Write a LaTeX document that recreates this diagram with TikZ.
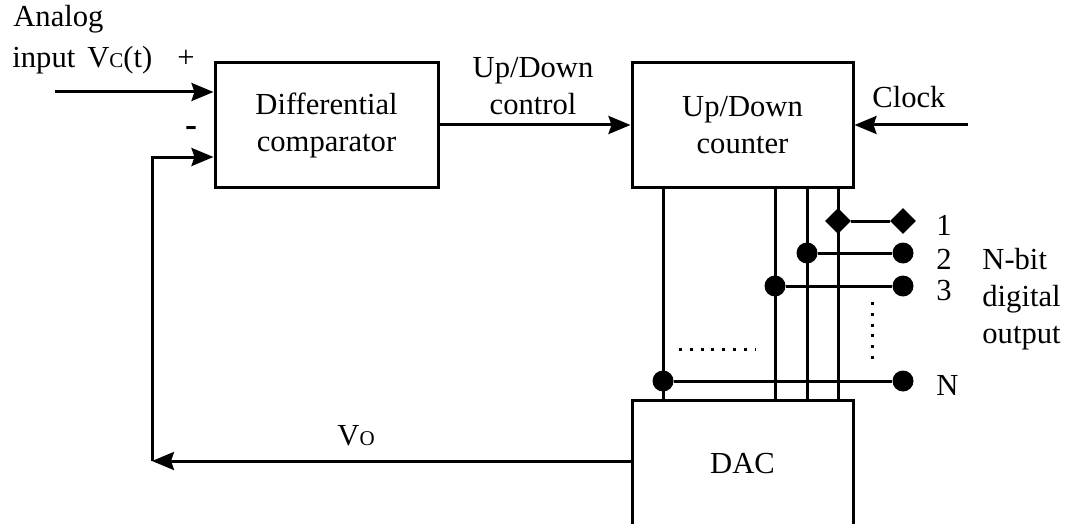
\documentclass[tikz,border=0pt]{standalone}
\usepackage{fontspec}
\setmainfont{Liberation Serif}
\usetikzlibrary{
  arrows.meta,
  shapes.geometric
}

\tikzset{
  wire/.style={line width=1.5pt},
  sig/.style={wire, -{Stealth[length=11pt, width=9pt, inset=1.5pt]}},
  blockbox/.style={draw, line width=1.5pt, align=center, inner sep=0pt},
  junc/.style={circle, fill, inner sep=0pt, minimum size=10.5pt},
  pin/.style={diamond, fill, inner sep=0pt, minimum size=13pt},
  lbl/.style={inner sep=0pt, anchor=base west},
  dots/.style={line width=1.5pt, dash pattern=on 1.5pt off 3.9pt}
}
\newcommand{\smallsub}[1]{{\fontsize{10.5}{12}\selectfont #1}}

\begin{document}
\begin{tikzpicture}[x=0.5pt, y=-0.5pt, font=\fontsize{15.3}{18.5}\selectfont]
\useasboundingbox (0,0) rectangle (1070,524);

% blocks
\node[blockbox, minimum width=111.5pt, minimum height=62pt] (cmp) at (326.5,125) {Differential\\comparator};
\node[blockbox, minimum width=110.5pt, minimum height=62pt] (cnt) at (742.5,125) {Up/Down\\counter};
\node[blockbox, minimum width=110.5pt, minimum height=63.5pt] (dac) at (742.5,463.5) {DAC};

% inputs and feedback
\coordinate (vin) at (55,92);
\coordinate (fb) at (152,461);
\coordinate (fbup) at (152,157);
\coordinate (clk) at (968,125);
\draw[sig] (vin) -- (cmp.west |- vin);
\draw[sig] (dac.west |- fb) -- (fb);
\draw[sig] (fb) -- (fbup) -- (cmp.west |- fbup);
\draw[sig] (cmp.east) -- (cnt.west);
\draw[sig] (clk) -- (cnt.east);

% labels
\node[lbl] (analog) at (13,27) {Analog};
\node[lbl] (input) at (12,68) {input\hspace{6pt}V\smallsub{C}(t)};
\node[lbl] (plus) at (177,68) {+};
\node (minus) at (191,131) {\fontsize{18}{18}\selectfont\bfseries -};
\node[align=center] (udc) at (533,86) {Up/Down\\control};
\node[lbl] (clock) at (872,108) {Clock};
\node[lbl] (vo) at (337,445) {V\smallsub{O}};

% counter outputs to DAC
\foreach \x in {663,775,807,838}
  \draw[wire] (cnt.south -| \x,0) -- (dac.north -| \x,0);

\node[pin] (j1) at (838,221) {};
\node[pin] (e1) at (903,221) {};
\draw[wire] (j1) -- (e1);
\foreach \n/\x/\y in {2/807/253, 3/775/286, n/663/381} {
  \node[junc] (j\n) at (\x,\y) {};
  \node[junc] (e\n) at (903,\y) {};
  \draw[wire] (j\n) -- (e\n);
}

\coordinate (dh1) at (679,349);
\coordinate (dh2) at (755,349);
\coordinate (dv1) at (872,302);
\coordinate (dv2) at (872,365);
\draw[dots] (dh1) -- (dh2);
\draw[dots] (dv1) -- (dv2);

\node[lbl] (bit1) at (936,235) {1};
\node[lbl] (bit2) at (936,269) {2};
\node[lbl] (bit3) at (936,300) {3};
\node[lbl] (bitn) at (936,395) {N};
\node[lbl, align=left] (nbit) at (982,343) {N-bit\\digital\\output};
\end{tikzpicture}
\end{document}
